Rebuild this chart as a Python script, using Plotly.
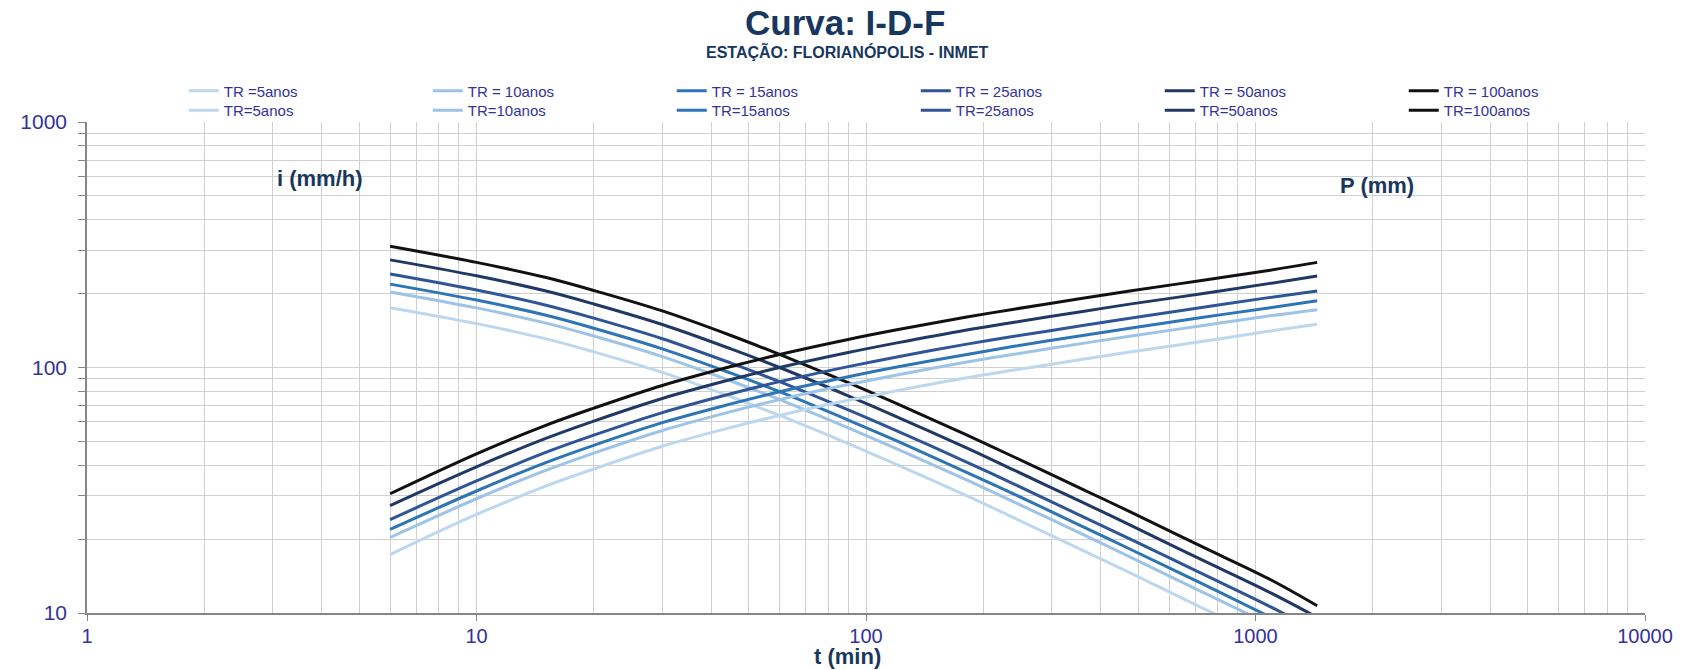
import plotly.graph_objects as go

# ---------------- data ----------------
durations = [6, 10, 15, 20, 30, 45, 60, 90, 120, 180, 240, 360, 480, 720, 1080, 1440]

# intensity i (mm/h)
i_tr5 = [175.2, 150.9, 131.1, 115.8, 95.5, 76.0, 63.8, 49.0, 40.2, 30.2, 24.4, 18.0, 14.5, 10.6, 7.8, 6.2]
i_tr10 = [203.1, 174.9, 152.0, 134.3, 110.7, 88.1, 74.0, 56.8, 46.6, 35.0, 28.3, 20.9, 16.8, 12.3, 9.0, 7.1]
i_tr15 = [218.6, 188.2, 163.6, 144.5, 119.1, 94.8, 79.7, 61.1, 50.2, 37.6, 30.5, 22.5, 18.1, 13.3, 9.7, 7.7]
i_tr25 = [240.3, 206.9, 179.8, 158.9, 131.0, 104.2, 87.6, 67.2, 55.2, 41.4, 33.5, 24.7, 19.9, 14.6, 10.7, 8.4]
i_tr50 = [274.4, 236.3, 205.3, 181.4, 149.6, 119.0, 100.0, 76.7, 63.0, 47.3, 38.2, 28.2, 22.7, 16.6, 12.2, 9.6]
i_tr100 = [312.0, 268.0, 233.0, 206.0, 170.0, 135.0, 113.0, 86.7, 71.2, 53.4, 43.2, 31.9, 25.7, 18.8, 13.8, 10.7]

# precipitation P (mm)
p_tr5 = [17.3, 25.2, 32.8, 38.6, 47.8, 57.0, 63.8, 73.5, 80.4, 90.6, 97.6, 108.0, 116.0, 127.2, 140.4, 150.0]
p_tr10 = [20.3, 29.2, 38.0, 44.8, 55.4, 66.1, 74.0, 85.2, 93.2, 105.0, 113.2, 125.4, 134.4, 147.6, 162.0, 172.0]
p_tr15 = [21.9, 31.4, 40.9, 48.2, 59.6, 71.1, 79.7, 91.7, 100.4, 112.8, 122.0, 135.0, 144.8, 159.6, 174.6, 187.0]
p_tr25 = [24.0, 34.5, 45.0, 53.0, 65.5, 78.2, 87.6, 100.8, 110.4, 124.2, 134.0, 148.2, 159.2, 175.2, 192.6, 205.0]
p_tr50 = [27.4, 39.4, 51.3, 60.5, 74.8, 89.3, 100.0, 115.1, 126.0, 141.9, 152.8, 169.2, 181.6, 199.2, 219.6, 236.0]
p_tr100 = [30.6, 44.5, 58.0, 68.3, 84.5, 100.9, 113.0, 130.1, 142.4, 160.2, 172.8, 191.4, 205.6, 225.6, 248.4, 268.0]

names_row1 = ["TR =5anos", "TR = 10anos", "TR = 15anos", "TR = 25anos", "TR = 50anos", "TR = 100anos"]
names_row2 = ["TR=5anos", "TR=10anos", "TR=15anos", "TR=25anos", "TR=50anos", "TR=100anos"]

x_tick_vals = [1, 10, 100, 1000, 10000]
x_tick_text = ["1", "10", "100", "1000", "10000"]
y_tick_vals = [10, 100, 1000]
y_tick_text = ["10", "100", "1000"]

title_text = "Curva: I-D-F"
subtitle_text = "ESTAÇÃO: FLORIANÓPOLIS - INMET"
x_title = "t (min)"
i_label = "i (mm/h)"
p_label = "P (mm)"

# ---------------- styling ----------------
colors = ["#BDD7EE", "#9DC3E6", "#2E75B6", "#2F5597", "#203864", "#111111"]
navy = "#17375E"
tick_color = "#333399"
grid_color = "#D0D0D0"
axis_color = "#868686"
font_family = "Liberation Sans, Arial, sans-serif"

i_series = [i_tr5, i_tr10, i_tr15, i_tr25, i_tr50, i_tr100]
p_series = [p_tr5, p_tr10, p_tr15, p_tr25, p_tr50, p_tr100]

fig = go.Figure()
for name, vals, col in zip(names_row1, i_series, colors):
    fig.add_trace(go.Scatter(x=durations, y=vals, name=name, mode="lines",
                             line=dict(color=col, width=3, shape="spline"),
                             legend="legend"))
for name, vals, col in zip(names_row2, p_series, colors):
    fig.add_trace(go.Scatter(x=durations, y=vals, name=name, mode="lines",
                             line=dict(color=col, width=3, shape="spline"),
                             legend="legend2"))

W, H = 1685, 670
ml, mr, mt, mb = 87, 36, 122, 57
pw, ph = W - ml - mr, H - mt - mb


def px(xp):
    return (xp - ml) / pw


def py(yp):
    return (H - mb - yp) / ph


legend_common = dict(orientation="h", entrywidth=199, entrywidthmode="pixels",
                     bgcolor="rgba(0,0,0,0)", font=dict(family=font_family, size=15, color=tick_color),
                     xanchor="left", yanchor="middle", itemclick=False, itemdoubleclick=False)

fig.update_layout(
    width=W, height=H,
    margin=dict(l=ml, r=mr, t=mt, b=mb),
    paper_bgcolor="white", plot_bgcolor="white",
    font=dict(family=font_family, color=tick_color),
    showlegend=True,
    hovermode=False,
    legend=dict(x=px(184), y=py(91), **legend_common),
    legend2=dict(x=px(184), y=py(110.5), **legend_common),
    xaxis=dict(type="log", range=[0, 4], tickvals=x_tick_vals, ticktext=x_tick_text,
               showgrid=True, gridcolor=grid_color, gridwidth=1.3,
               showline=True, linecolor=axis_color, linewidth=1.5,
               ticks="outside", ticklen=6, tickcolor=axis_color,
               tickfont=dict(size=20, color=tick_color), ticklabelstandoff=-2,
               minor=dict(tickvals=[v * m for v in [1, 10, 100, 1000] for m in range(2, 10)],
                          showgrid=True, gridcolor=grid_color, gridwidth=1.3, ticks=""),
               zeroline=False),
    yaxis=dict(type="log", range=[1, 3], tickvals=y_tick_vals, ticktext=y_tick_text,
               showgrid=True, gridcolor=grid_color, gridwidth=1.3,
               showline=True, linecolor=axis_color, linewidth=1.5,
               ticks="outside", ticklen=7, tickcolor=axis_color,
               tickfont=dict(size=21, color=tick_color), ticklabelstandoff=7,
               minor=dict(tickvals=[v * m for v in [10, 100] for m in range(2, 10)],
                          showgrid=True, gridcolor=grid_color, gridwidth=1.3,
                          ticks="outside", ticklen=7, tickcolor=axis_color),
               zeroline=False),
)

annotations = [
    dict(text="<b>" + title_text + "</b>", x=px(847), y=py(22), font=dict(size=35, color=navy)),
    dict(text="<b>" + subtitle_text + "</b>", x=px(849), y=py(52), font=dict(size=16, color=navy)),
    dict(text="<b>" + i_label + "</b>", x=px(321), y=py(178), font=dict(size=22, color=navy)),
    dict(text="<b>" + p_label + "</b>", x=px(1380), y=py(186), font=dict(size=22, color=navy)),
    dict(text="<b>" + x_title + "</b>", x=px(849), y=py(656), font=dict(size=22, color=navy)),
]
for a in annotations:
    a.update(xref="paper", yref="paper", showarrow=False, xanchor="center", yanchor="middle")
    a["font"]["family"] = font_family
fig.update_layout(annotations=annotations)

fig.write_html("out.html", config={"displayModeBar": False},
               post_script="document.body.style.margin='0';document.body.style.padding='0';")
